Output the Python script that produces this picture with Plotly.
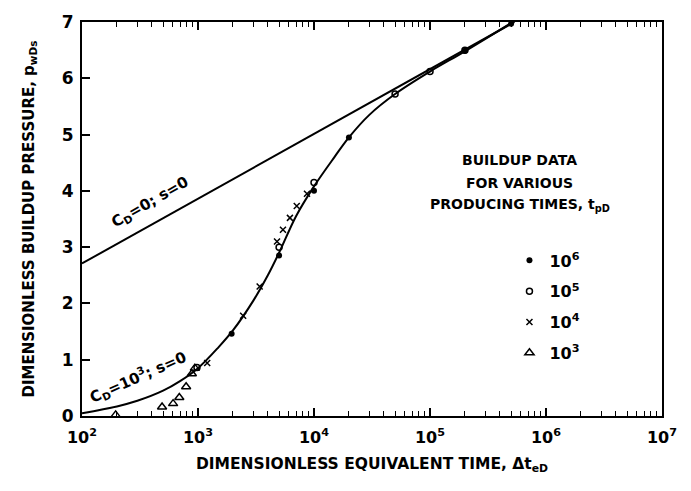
import plotly.graph_objects as go

# Semi-log straight line, C_D = 0, s = 0
line_t = [1e2, 5.35e5]
line_p = [2.71, 7.0]

# Type curve, C_D = 10^3, s = 0
curve_t = [100, 200, 300, 500, 700, 1000, 1500, 2000, 3000, 4000, 5000, 7000,
           10000, 15000, 20000, 30000, 50000, 100000, 200000, 500000]
curve_p = [0.05, 0.17, 0.27, 0.45, 0.62, 0.85, 1.22, 1.52, 2.05, 2.5, 2.9, 3.55,
           4.08, 4.6, 4.95, 5.35, 5.72, 6.12, 6.48, 6.98]

# Buildup data for various producing times t_pD
t_1e6 = [1950, 5000, 10000, 20000, 200000, 500000]
p_1e6 = [1.46, 2.85, 4.0, 4.95, 6.49, 6.97]

t_1e5 = [980, 5000, 10000, 50000, 100000, 200000]
p_1e5 = [0.86, 3.0, 4.15, 5.72, 6.12, 6.5]

t_1e4 = [1200, 2450, 3400, 4800, 5400, 6200, 7100, 8700]
p_1e4 = [0.94, 1.78, 2.3, 3.1, 3.31, 3.52, 3.73, 3.95]

t_1e3 = [195, 490, 610, 690, 790, 885, 940]
p_1e3 = [0.02, 0.16, 0.22, 0.33, 0.52, 0.75, 0.85]

x_tickvals = [1e2, 1e3, 1e4, 1e5, 1e6, 1e7]
x_ticktext = ["10<sup>2</sup>", "10<sup>3</sup>", "10<sup>4</sup>",
              "10<sup>5</sup>", "10<sup>6</sup>", "10<sup>7</sup>"]
y_tickvals = [0, 1, 2, 3, 4, 5, 6, 7]
legend_title_lines = ["BUILDUP DATA", "FOR VARIOUS", "PRODUCING TIMES, t<sub>pD</sub>"]

# minor log ticks at 2..9 within each decade
x_minor = [m * 10 ** e for e in range(2, 7) for m in range(2, 10)]

FONT = "DejaVu Sans, sans-serif"

fig = go.Figure()

fig.add_trace(go.Scatter(x=line_t, y=line_p, mode="lines",
                         line=dict(color="black", width=2), showlegend=False,
                         hoverinfo="skip"))
fig.add_trace(go.Scatter(x=curve_t, y=curve_p, mode="lines",
                         line=dict(color="black", width=2, shape="spline", smoothing=1.0),
                         showlegend=False, hoverinfo="skip"))

series = [
    ("10<sup>6</sup>", t_1e6, p_1e6, dict(symbol="circle", size=6, color="black")),
    ("10<sup>5</sup>", t_1e5, p_1e5, dict(symbol="circle-open", size=6, color="black",
                                          line=dict(width=1.5))),
    ("10<sup>4</sup>", t_1e4, p_1e4, dict(symbol="x-thin-open", size=6, color="black",
                                          line=dict(width=1.5, color="black"))),
    ("10<sup>3</sup>", t_1e3, p_1e3, dict(symbol="triangle-up-open", size=8, color="black",
                                          line=dict(width=1.5))),
]
for i, (name, tx, py, mk) in enumerate(series):
    fig.add_trace(go.Scatter(x=tx, y=py, mode="markers", name=name, marker=mk,
                             legendgroup=f"g{i}", cliponaxis=False))

fig.add_annotation(x=2.586, y=3.8, xref="x", yref="y",
                   text="C<sub>D</sub>=0; s=0", textangle=-30, showarrow=False,
                   font=dict(family=FONT, size=15, color="black", weight="bold"))
fig.add_annotation(x=2.483, y=0.7, xref="x", yref="y",
                   text="C<sub>D</sub>=10<sup>3</sup>; s=0", textangle=-24, showarrow=False,
                   font=dict(family=FONT, size=15, color="black", weight="bold"))

# legend heading, one line per annotation for wider line spacing
for line_text, ypix in zip(legend_title_lines, [153, 177, 200]):
    fig.add_annotation(x=0.755, y=(416 - ypix) / 404, xref="paper", yref="paper",
                       xanchor="center", yanchor="middle",
                       text=line_text, showarrow=False,
                       font=dict(family=FONT, size=14, color="black", weight="bold"))

fig.update_layout(
    width=691, height=491,
    margin=dict(l=82, r=29, t=12, b=75),
    paper_bgcolor="white", plot_bgcolor="white",
    font=dict(family=FONT, color="black"),
    legend=dict(x=0.737, y=0.438, xanchor="left", yanchor="top",
                bgcolor="rgba(0,0,0,0)", tracegroupgap=7,
                traceorder="grouped",
                font=dict(family=FONT, size=16, color="black", weight="bold")),
    xaxis=dict(type="log", range=[2, 7], tickvals=x_tickvals, ticktext=x_ticktext,
               ticks="inside", ticklen=8, tickwidth=1.5, tickcolor="black",
               ticklabelstandoff=6,
               showline=True, linecolor="black", linewidth=2, mirror="ticks",
               showgrid=False, zeroline=False,
               minor=dict(tickmode="array", tickvals=x_minor, ticks="inside",
                          ticklen=5, tickwidth=1.2, tickcolor="black", showgrid=False),
               tickfont=dict(family=FONT, size=16, color="black", weight="bold"),
               title=dict(text="DIMENSIONLESS EQUIVALENT TIME, \u0394t<sub>eD</sub>",
                          standoff=12,
                          font=dict(family=FONT, size=15.5, color="black", weight="bold"))),
    yaxis=dict(range=[0, 7], tickvals=y_tickvals,
               ticks="inside", ticklen=8, tickwidth=1.5, tickcolor="black",
               ticklabelstandoff=3,
               showline=True, linecolor="black", linewidth=2, mirror=True,
               showgrid=False, zeroline=False,
               tickfont=dict(family=FONT, size=17, color="black", weight="bold"),
               title=dict(text="DIMENSIONLESS BUILDUP PRESSURE, p<sub>wDs</sub>",
                          standoff=24,
                          font=dict(family=FONT, size=15, color="black", weight="bold"))),
)

fig.write_html("out.html")
